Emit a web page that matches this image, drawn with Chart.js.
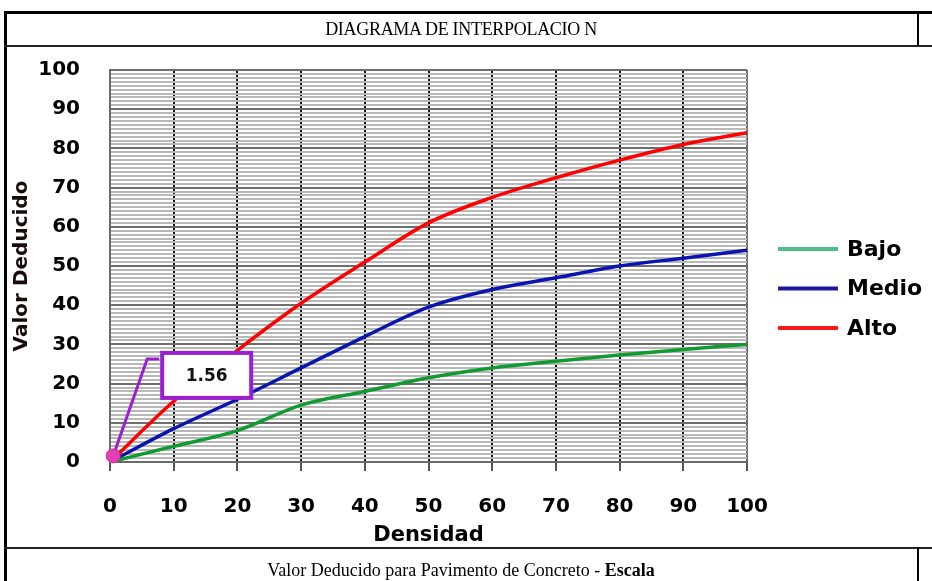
<!DOCTYPE html>
<html>
<head>
<meta charset="utf-8">
<script src="https://cdn.jsdelivr.net/npm/chart.js@4.4.1/dist/chart.umd.min.js"></script>
<style>
  html, body { margin: 0; padding: 0; background: #fff; }
  #page { position: relative; width: 932px; height: 581px; overflow: hidden; background: #fff; }
  #chart { position: absolute; left: 0; top: 0; }
  .rule { position: absolute; background: #000; }
  .txt { position: absolute; font-family: 'Liberation Serif', 'Times New Roman', serif; color: #000; white-space: nowrap; text-align: center; }
</style>
</head>
<body>
<div id="page">
  <canvas id="chart" width="932" height="581"></canvas>
  <div class="rule" style="left:4px;top:11px;width:928px;height:3px;"></div>
  <div class="rule" style="left:4px;top:11px;width:3px;height:570px;"></div>
  <div class="rule" style="left:4px;top:45px;width:928px;height:2px;background:#222;"></div>
  <div class="rule" style="left:917px;top:11px;width:2px;height:35px;"></div>
  <div class="rule" style="left:4px;top:547px;width:928px;height:2px;background:#222;"></div>
  <div class="rule" style="left:917px;top:547px;width:2px;height:34px;"></div>
  <div class="txt" style="left:4px;width:914px;top:19px;font-size:18px;letter-spacing:-0.3px;">DIAGRAMA DE INTERPOLACIO N</div>
  <div class="txt" style="left:4px;width:914px;top:560px;font-size:18px;">Valor Deducido para Pavimento de Concreto - <b>Escala</b></div>
</div>
<script>
// Densidad (%) en el eje X
const densidad = [0, 10, 20, 30, 40, 50, 60, 70, 80, 90, 100];
// Valor deducido por nivel de severidad
const bajo  = [0, 4, 8, 14.5, 18, 21.5, 24, 25.7, 27.3, 28.7, 30];
const medio = [0, 8.5, 16, 24, 32, 39.5, 44, 47, 50, 52, 54];
const alto  = [0, 15.5, 28.5, 40.5, 51, 61, 67.5, 72.5, 77, 81, 84];
const serieNombres = ['Bajo', 'Medio', 'Alto'];
const serieValores = [bajo, medio, alto];
const serieColores = ['#109a30', '#0a14b0', '#ff0000'];
const leyendaColores = ['#4cbf86', '#1a1aa0', '#ff1a1a'];
// Punto interpolado
const puntoDensidad = [0.5];
const puntoValor = [1.56];

const tickFont = { family: "'DejaVu Sans', Verdana, sans-serif", size: 20, weight: 'bold' };

const datasets = serieNombres.map((name, i) => ({
  label: name,
  data: densidad.map((d, k) => ({ x: d, y: serieValores[i][k] })),
  borderColor: serieColores[i],
  backgroundColor: serieColores[i],
  borderWidth: 3.5,
  cubicInterpolationMode: 'monotone',
  pointRadius: 0,
  fill: false,
  order: 2
}));
datasets.push({
  type: 'scatter',
  label: 'punto',
  data: puntoDensidad.map((d, k) => ({ x: d, y: puntoValor[k] })),
  pointRadius: 7,
  backgroundColor: '#e33fb6',
  borderColor: '#c4329c',
  borderWidth: 1,
  clip: false,
  order: 0
});

// Leader line from the interpolated point to its label box
const calloutLine = {
  id: 'calloutLine',
  beforeDatasetsDraw(chart) {
    const meta = chart.getDatasetMeta(3);
    const p = meta.data[0];
    const ctx = chart.ctx;
    ctx.save();
    ctx.strokeStyle = '#9a1fd0';
    ctx.lineWidth = 3;
    ctx.lineJoin = 'miter';
    ctx.beginPath();
    ctx.moveTo(p.x, p.y);
    ctx.lineTo(p.x + 34, p.y - 97);
    ctx.lineTo(p.x + 46, p.y - 97);
    ctx.stroke();
    ctx.restore();
  }
};

// Label box with the interpolated value
const calloutBox = {
  id: 'calloutBox',
  afterDatasetsDraw(chart) {
    const meta = chart.getDatasetMeta(3);
    const p = meta.data[0];
    const ctx = chart.ctx;
    const bx = p.x + 49, by = p.y - 103, bw = 89, bh = 45;
    ctx.save();
    ctx.fillStyle = '#fff';
    ctx.fillRect(bx, by, bw, bh);
    ctx.strokeStyle = '#9a1fd0';
    ctx.lineWidth = 4;
    ctx.strokeRect(bx, by, bw, bh);
    ctx.fillStyle = '#111';
    ctx.font = "bold 17px 'DejaVu Sans', Verdana, sans-serif";
    ctx.textAlign = 'center';
    ctx.textBaseline = 'middle';
    ctx.fillText(String(puntoValor[0]), bx + bw / 2, by + bh / 2 + 1);
    ctx.restore();
  }
};

// Side legend
const sideLegend = {
  id: 'sideLegend',
  afterDraw(chart) {
    const ctx = chart.ctx;
    const x0 = chart.chartArea.right + 31;
    ctx.save();
    ctx.font = "bold 22px 'DejaVu Sans', Verdana, sans-serif";
    ctx.textBaseline = 'middle';
    ctx.textAlign = 'left';
    serieNombres.forEach((name, i) => {
      const y = 249 + i * 39.5;
      ctx.strokeStyle = leyendaColores[i];
      ctx.lineWidth = 4;
      ctx.beginPath();
      ctx.moveTo(x0, y);
      ctx.lineTo(x0 + 60, y);
      ctx.stroke();
      ctx.fillStyle = '#000';
      ctx.fillText(name, x0 + 69, y + 1);
    });
    ctx.restore();
  }
};

new Chart(document.getElementById('chart'), {
  type: 'line',
  data: { datasets },
  options: {
    responsive: false,
    animation: false,
    devicePixelRatio: 1,
    layout: { padding: { left: 0, top: 70, right: 185, bottom: 33 } },
    plugins: { legend: { display: false }, tooltip: { enabled: false } },
    scales: {
      x: {
        type: 'linear',
        min: 0, max: 100,
        afterFit: s => { s.height = 86; },
        ticks: { stepSize: 10, font: tickFont, color: '#000', padding: 24, maxRotation: 0 },
        grid: {
          color: c => (c.tick && (c.tick.value === 0 || c.tick.value === 100)) ? '#6a6a6a' : '#151515',
          lineWidth: 2,
          tickLength: 9,
          tickColor: '#555',
          tickWidth: 2
        },
        border: { display: true, color: '#6a6a6a', width: 2 },
        title: {
          display: true, text: 'Densidad', color: '#000', padding: 0,
          font: { family: "'DejaVu Sans', Verdana, sans-serif", size: 21, weight: 'bold' }
        }
      },
      y: {
        type: 'linear',
        min: 0, max: 100,
        afterFit: s => { s.width = 110; },
        ticks: {
          stepSize: 1, autoSkip: false, maxTicksLimit: 1000,
          font: tickFont, color: '#000', padding: 30,
          callback: v => (v % 10 === 0 ? String(v) : '')
        },
        grid: {
          color: c => (c.tick && c.tick.value % 10 === 0) ? '#6e6e6e' : '#b8b8b8',
          lineWidth: 2,
          drawTicks: false
        },
        border: { display: true, color: '#6a6a6a', width: 2 },
        title: {
          display: true, text: 'Valor Deducido', color: '#1a0a0a', padding: { top: 10 },
          font: { family: "'DejaVu Sans', Verdana, sans-serif", size: 20, weight: 'bold' }
        }
      }
    }
  },
  plugins: [calloutLine, calloutBox, sideLegend]
});
</script>
</body>
</html>
